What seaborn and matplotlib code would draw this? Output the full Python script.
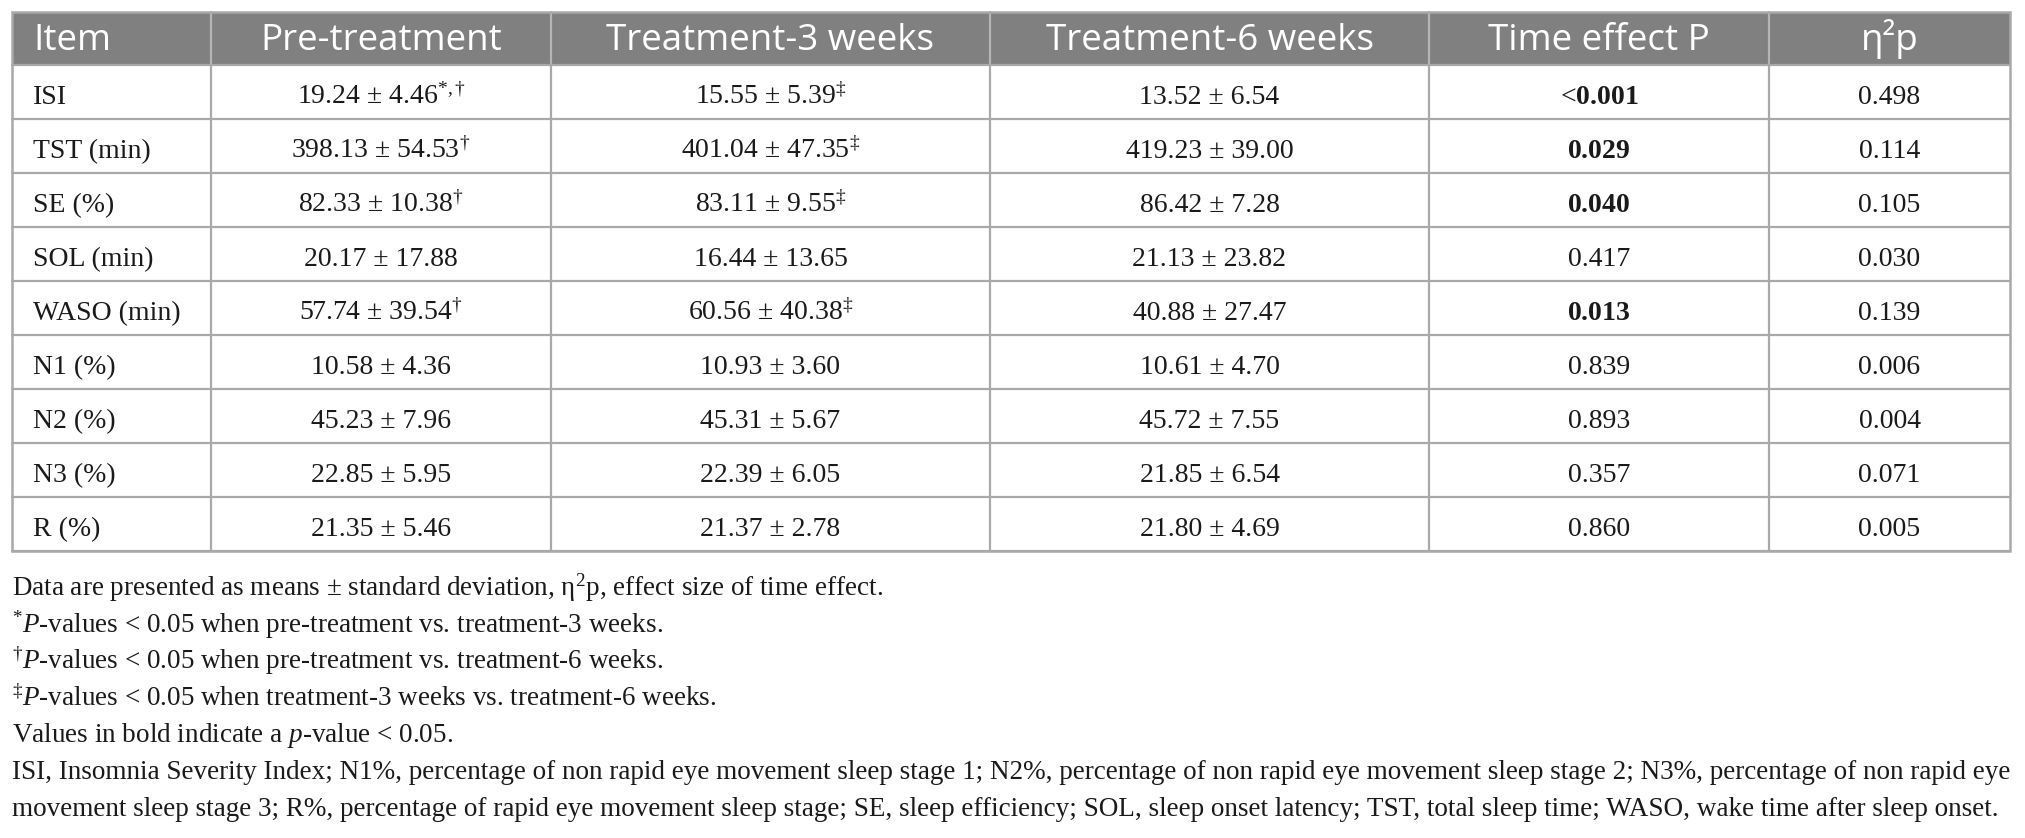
import matplotlib
matplotlib.use("Agg")
import matplotlib.pyplot as plt
import seaborn as sns
from matplotlib.patches import Rectangle

# ---------------- data ----------------
headers = ["Item", "Pre-treatment", "Treatment-3 weeks", "Treatment-6 weeks", "Time effect P", "η²p"]
items = ["ISI", "TST (min)", "SE (%)", "SOL (min)", "WASO (min)", "N1 (%)", "N2 (%)", "N3 (%)", "R (%)"]
pre_mean = ["19.24", "398.13", "82.33", "20.17", "57.74", "10.58", "45.23", "22.85", "21.35"]
pre_sd = ["4.46", "54.53", "10.38", "17.88", "39.54", "4.36", "7.96", "5.95", "5.46"]
pre_sig = ["*,†", "†", "†", "", "†", "", "", "", ""]
w3_mean = ["15.55", "401.04", "83.11", "16.44", "60.56", "10.93", "45.31", "22.39", "21.37"]
w3_sd = ["5.39", "47.35", "9.55", "13.65", "40.38", "3.60", "5.67", "6.05", "2.78"]
w3_sig = ["‡", "‡", "‡", "", "‡", "", "", "", ""]
w6_mean = ["13.52", "419.23", "86.42", "21.13", "40.88", "10.61", "45.72", "21.85", "21.80"]
w6_sd = ["6.54", "39.00", "7.28", "23.82", "27.47", "4.70", "7.55", "6.54", "4.69"]
p_prefix = ["<", "", "", "", "", "", "", "", ""]
p_values = ["0.001", "0.029", "0.040", "0.417", "0.013", "0.839", "0.893", "0.357", "0.860"]
p_bold = [True, True, True, False, True, False, False, False, False]
eta_p = ["0.498", "0.114", "0.105", "0.030", "0.139", "0.006", "0.004", "0.071", "0.005"]

footnotes = [
    r"Data are presented as means ± standard deviation, η$^{2}$p, effect size of time effect.",
    r"$^{*}$$\mathit{P}$-values < 0.05 when pre-treatment vs. treatment-3 weeks.",
    r"$^{†}$$\mathit{P}$-values < 0.05 when pre-treatment vs. treatment-6 weeks.",
    r"$^{‡}$$\mathit{P}$-values < 0.05 when treatment-3 weeks vs. treatment-6 weeks.",
    r"Values in bold indicate a $\mathit{p}$-value < 0.05.",
    "ISI, Insomnia Severity Index; N1%, percentage of non rapid eye movement sleep stage 1; N2%, percentage of non rapid eye movement sleep stage 2; N3%, percentage of non rapid eye",
    "movement sleep stage 3; R%, percentage of rapid eye movement sleep stage; SE, sleep efficiency; SOL, sleep onset latency; TST, total sleep time; WASO, wake time after sleep onset.",
]

# ---------------- style ----------------
sns.set_theme(style="white")
plt.rcParams["font.family"] = ["Liberation Serif", "DejaVu Serif"]
plt.rcParams["mathtext.fontset"] = "custom"
plt.rcParams["mathtext.rm"] = "Liberation Serif"
plt.rcParams["mathtext.it"] = "Liberation Serif:italic"
plt.rcParams["mathtext.bf"] = "Liberation Serif:bold"

W, H = 2025, 838
fig = plt.figure(figsize=(W / 100, H / 100), dpi=100)
ax = fig.add_axes([0, 0, 1, 1])
ax.set_xlim(0, W)
ax.set_ylim(H, 0)
ax.axis("off")

col_edges = [12, 211, 551, 990, 1429, 1769, 2010]
top = 12
head_bot = 65
row_h = 54
n_rows = len(items)
row_edges = [head_bot + i * row_h for i in range(n_rows + 1)]
bottom = row_edges[-1]

grid_c = "#a9a9a9"
head_c = "#808080"
txt_c = "#1a1a1a"
body_fs = 20
head_fs = 26.5

# header background
ax.add_patch(Rectangle((col_edges[0], top), col_edges[-1] - col_edges[0], head_bot - top,
                       facecolor=head_c, edgecolor="none", zorder=1))
# header separators
for x in col_edges[1:-1]:
    ax.plot([x, x], [top, head_bot], color="#b5b5b5", lw=1.6, zorder=2)
# body grid
for y in row_edges:
    ax.plot([col_edges[0], col_edges[-1]], [y, y], color=grid_c, lw=1.6, zorder=2)
for x in col_edges[1:-1]:
    ax.plot([x, x], [head_bot, bottom], color=grid_c, lw=1.6, zorder=2)
# outer border
ax.add_patch(Rectangle((col_edges[0], top), col_edges[-1] - col_edges[0], bottom - top,
                       facecolor="none", edgecolor=grid_c, lw=1.8, zorder=3))

# header text
for j, h in enumerate(headers):
    if j == 0:
        x, ha = col_edges[0] + 21, "left"
    else:
        x, ha = (col_edges[j] + col_edges[j + 1]) / 2, "center"
    ax.text(x, head_bot - 15, h, ha=ha, va="baseline", color="white",
            fontsize=head_fs, family=["Open Sans", "DejaVu Sans"], zorder=4)

def cell_text(j, i, s, weight="normal"):
    cx = (col_edges[j] + col_edges[j + 1]) / 2
    y = row_edges[i] + 39
    ax.text(cx, y, s, ha="center", va="baseline", color=txt_c, fontsize=body_fs,
            fontweight=weight, zorder=4)

for i in range(n_rows):
    ax.text(col_edges[0] + 21, row_edges[i] + 39, items[i], ha="left", va="baseline",
            color=txt_c, fontsize=body_fs, zorder=4)
    s = f"{pre_mean[i]} ± {pre_sd[i]}" + (f"$^{{{pre_sig[i]}}}$" if pre_sig[i] else "")
    cell_text(1, i, s)
    s = f"{w3_mean[i]} ± {w3_sd[i]}" + (f"$^{{{w3_sig[i]}}}$" if w3_sig[i] else "")
    cell_text(2, i, s)
    cell_text(3, i, f"{w6_mean[i]} ± {w6_sd[i]}")
    if p_bold[i]:
        s = p_prefix[i] + r"$\mathbf{" + p_values[i] + "}$"
    else:
        s = p_prefix[i] + p_values[i]
    cell_text(4, i, s)
    cell_text(5, i, eta_p[i])

# footnotes
fn_base = 596
fn_step = 36.6
for k, line in enumerate(footnotes):
    ax.text(12, fn_base + k * fn_step, line, ha="left", va="baseline", color=txt_c,
            fontsize=19.5, zorder=4)

fig.savefig("out.png", dpi=100, facecolor="white")
